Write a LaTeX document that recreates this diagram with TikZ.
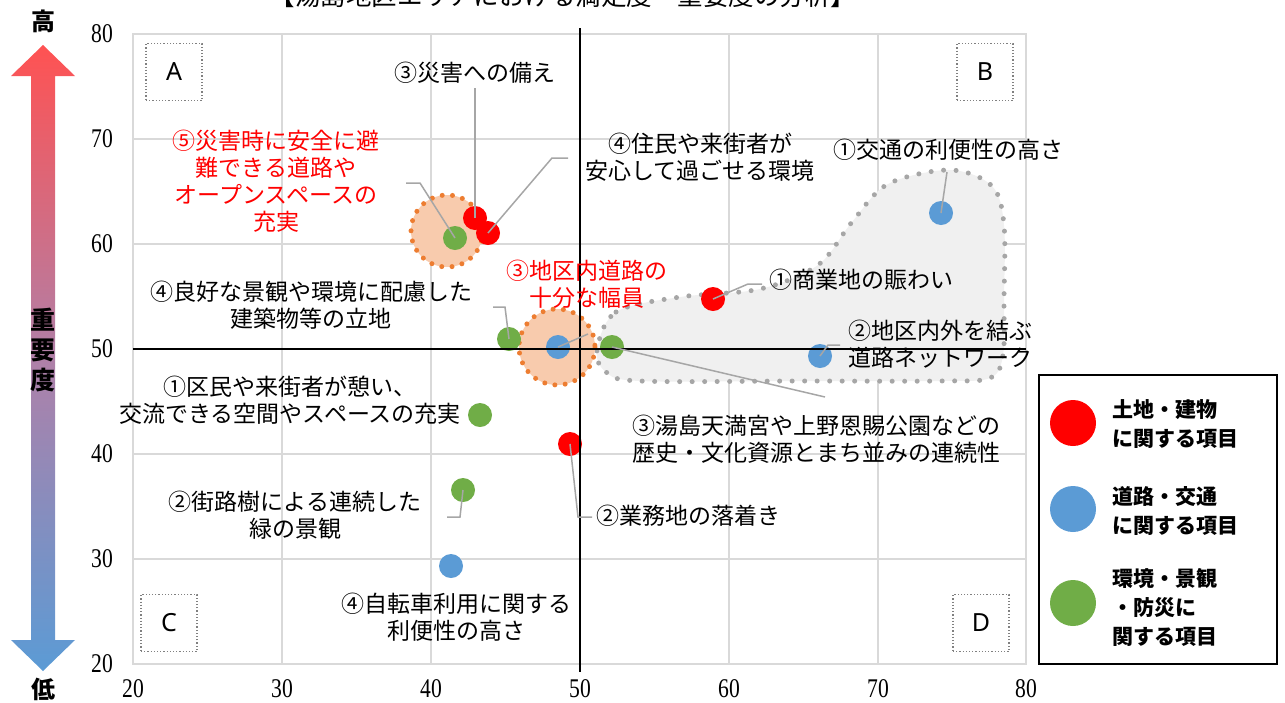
\documentclass[tikz,border=0pt]{standalone}
\usepackage{fontspec}
\setmainfont{Liberation Serif}
\newfontfamily\jp{Noto Sans CJK JP}
\newfontfamily\lat{Noto Sans}
\newcommand\tk[1]{\scalebox{0.8}[1]{#1}}
\definecolor{cred}{HTML}{FF0000}
\definecolor{cblue}{HTML}{5B9BD5}
\definecolor{cgreen}{HTML}{70AD47}
\definecolor{grid}{HTML}{D9D9D9}
\definecolor{lead}{HTML}{A6A6A6}
\definecolor{blobfill}{HTML}{F0F0F0}
\definecolor{orfill}{HTML}{F8CBAD}
\definecolor{ordot}{HTML}{ED7D31}
\definecolor{atop}{HTML}{FF5252}
\definecolor{abot}{HTML}{5B9BD5}
\tikzset{
  dot/.style={circle,inner sep=0pt,minimum size=24pt},
  rdot/.style={dot,fill=cred},
  bdot/.style={dot,fill=cblue},
  gdot/.style={dot,fill=cgreen},
  leader/.style={draw=lead,line width=1.5pt},
  lbl/.style={font=\jp\fontsize{23}{27}\selectfont,align=center,inner sep=0pt},
  lbll/.style={lbl,align=left,anchor=west},
  redlbl/.style={lbl,text=cred},
  tick/.style={font=\fontsize{27}{27}\selectfont,inner sep=0pt},
  quad/.style={draw=gray,dotted,line width=1.2pt,minimum width=56pt,minimum height=57pt,font=\lat\fontsize{25}{25}\selectfont},
  leg/.style={font=\jp\bfseries\fontsize{21}{29}\selectfont,align=left,anchor=west,inner sep=0pt},
  ldot/.style={circle,inner sep=0pt,minimum size=46pt},
}
\begin{document}
\begin{tikzpicture}[x=1pt,y=-1pt]
\useasboundingbox (0,0) rectangle (1285,702);
% title (cut off at top)
\node[font=\jp\fontsize{25.5}{26}\selectfont,anchor=base,inner sep=0pt] (title) at (563,5) {【湯島地区エリアにおける満足度・重要度の分析】};
% grid
\draw[grid,line width=1.3pt] (133,34) rectangle (1026,664);
\foreach \x in {282,431,729,878} \draw[grid,line width=1.3pt] (\x,34) -- (\x,664);
\foreach \y in {139,244,454,559} \draw[grid,line width=1.3pt] (133,\y) -- (1026,\y);
% tick labels
\foreach \v/\y in {80/34,70/139,60/244,50/349,40/454,30/559,20/664}
  \node[tick,anchor=east] (ty\v) at (113,\y) {\tk{\v}};
\foreach \v/\x in {20/133,30/282,40/431,50/580,60/729,70/878,80/1026}
  \node[tick] (tx\v) at (\x,689) {\tk{\v}};
% gray blob
\draw[fill=blobfill,draw=lead,line width=5pt,line cap=round,dash pattern=on 0pt off 12.5pt]
  plot[smooth cycle,tension=0.55] coordinates {(597,350) (616,312) (680,297) (760,289) (818,265) (852,222) (888,184) (950,170) (992,186) (1004,225) (1004,300) (1003,355) (990,378) (940,381) (800,381) (640,381) (606,372)};
% orange circles
\draw[fill=orfill,draw=ordot,line width=5pt,line cap=round,dash pattern=on 0pt off 10.3pt] (447,231) circle (36);
\draw[fill=orfill,draw=ordot,line width=5pt,line cap=round,dash pattern=on 0pt off 10.3pt] (557,347) circle (38);
% quadrant boxes
\node[quad] (qa) at (174,72) {A};
\node[quad] (qb) at (985,72) {B};
\node[quad] (qc) at (169,623) {C};
\node[quad] (qd) at (981,623) {D};
% dots
\node[gdot] (g5) at (455,238) {};
\node[rdot] (r3) at (475,218) {};
\node[rdot] (r4) at (488,233) {};
\node[rdot] (r1) at (713,299) {};
\node[rdot] (r2) at (570,444) {};
\node[bdot] (b1) at (941,213) {};
\node[bdot] (b2) at (820,356) {};
\node[bdot] (b3) at (558,347) {};
\node[bdot] (b4) at (451,566) {};
\node[gdot] (g4) at (509,339) {};
\node[gdot] (g3) at (612,347) {};
\node[gdot] (g1) at (480,415) {};
\node[gdot] (g2) at (463,490) {};
% axes
\draw[line width=2.5pt] (580,28) -- (580,672);
\draw[line width=2.5pt] (133,349) -- (1026,349);
% labels
\node[lbl] (l_r3) at (475,73) {③災害への備え};
\node[lbl] (l_r4) at (700,157) {④住民や来街者が\\安心して過ごせる環境};
\node[lbl] (l_b1) at (948,150) {①交通の利便性の高さ};
\node[redlbl] (l_g5) at (276,181) {⑤災害時に安全に避\\難できる道路や\\オープンスペースの\\充実};
\node[redlbl] (l_b3) at (587,284) {③地区内道路の\\十分な幅員};
\node[lbl] (l_g4) at (311,305) {④良好な景観や環境に配慮した\\建築物等の立地};
\node[lbl] (l_g1) at (290,400) {①区民や来街者が憩い、\\交流できる空間やスペースの充実};
\node[lbl] (l_g2) at (295,515) {②街路樹による連続した\\緑の景観};
\node[lbl] (l_b4) at (456,617) {④自転車利用に関する\\利便性の高さ};
\node[lbll] (l_r2) at (596,516) {②業務地の落着き};
\node[lbll] (l_r1) at (769,280) {①商業地の賑わい};
\node[lbll] (l_b2) at (848,344) {②地区内外を結ぶ\\道路ネットワーク};
\node[lbll] (l_g3) at (632,439) {③湯島天満宮や上野恩賜公園などの\\歴史・文化資源とまち並みの連続性};
% leader end points
\coordinate (c_r3) at (475,88);
\coordinate (c_r4a) at (552,158); \coordinate (c_r4b) at (568,158);
\coordinate (c_b1) at (947,172);
\coordinate (c_g5a) at (420,183); \coordinate (c_g5b) at (406,183);
\coordinate (c_b3) at (588,334);
\coordinate (c_g4a) at (505,307); \coordinate (c_g4b) at (493,307);
\coordinate (c_g2a) at (460,517); \coordinate (c_g2b) at (447,517);
\coordinate (c_r2a) at (578,517); \coordinate (c_r2b) at (592,517);
\coordinate (c_r1a) at (748,284); \coordinate (c_r1b) at (762,284);
\coordinate (c_b2a) at (828,345); \coordinate (c_b2b) at (840,345);
\coordinate (c_g3) at (825,397);
% leaders
\draw[leader] (r3.center) -- (c_r3);
\draw[leader] (r4.center) -- (c_r4a) -- (c_r4b);
\draw[leader] (b1.center) -- (c_b1);
\draw[leader] (g5.center) -- (c_g5a) -- (c_g5b);
\draw[leader] (b3.center) -- (c_b3);
\draw[leader] (g4.center) -- (c_g4a) -- (c_g4b);
\draw[leader] (g2.center) -- (c_g2a) -- (c_g2b);
\draw[leader] (r2.center) -- (c_r2a) -- (c_r2b);
\draw[leader] (r1.center) -- (c_r1a) -- (c_r1b);
\draw[leader] (b2.center) -- (c_b2a) -- (c_b2b);
\draw[leader] (g3.center) -- (c_g3);
% importance arrow
\shade[top color=atop,bottom color=abot,middle color={rgb,255:red,176;green,128;blue,168}]
  (43,45) -- (75,76) -- (55,76) -- (55,640) -- (75,640) -- (43,671) -- (11,640) -- (31,640) -- (31,76) -- (11,76) -- cycle;
\node[font=\jp\bfseries\fontsize{25}{30}\selectfont,align=center,inner sep=0pt] (imp) at (43,350) {重\\要\\度};
\node[font=\jp\bfseries\fontsize{24}{24}\selectfont,inner sep=0pt] (hi) at (43,21) {高};
\node[font=\jp\bfseries\fontsize{24}{24}\selectfont,inner sep=0pt] (lo) at (43,689) {低};
% legend
\draw[line width=2pt] (1039,375) rectangle (1277,664);
\node[ldot,fill=cred] (lr) at (1073,423) {};
\node[ldot,fill=cblue] (lb) at (1073,509) {};
\node[ldot,fill=cgreen] (lg) at (1073,603) {};
\node[leg] (tr) at (1112,424) {土地・建物\\に関する項目};
\node[leg] (tb) at (1112,511) {道路・交通\\に関する項目};
\node[leg] (tg) at (1112,607) {環境・景観\\・防災に\\関する項目};
\end{tikzpicture}
\end{document}
